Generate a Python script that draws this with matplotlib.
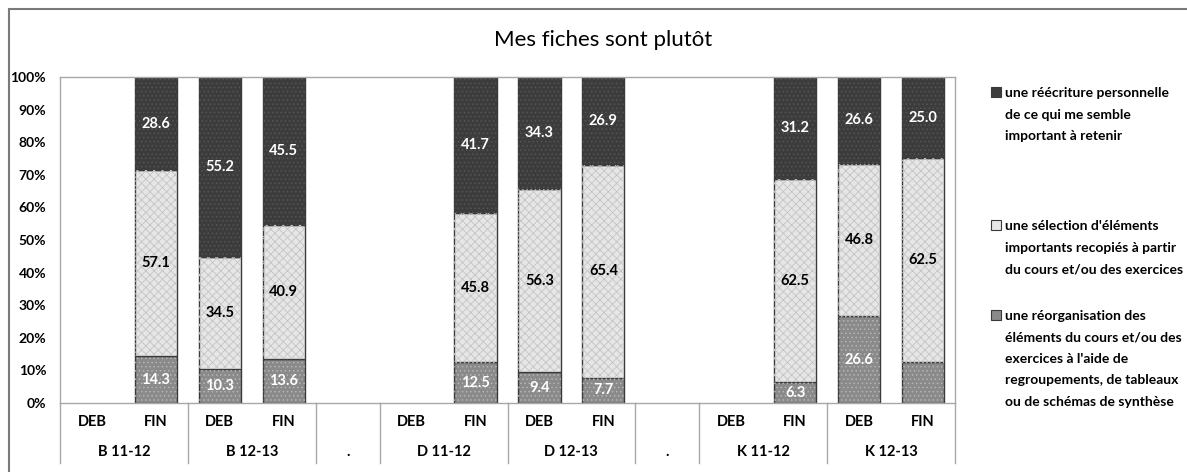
import numpy as np
import matplotlib
matplotlib.use('Agg')
import matplotlib.pyplot as plt
from matplotlib.patches import Rectangle

plt.rcParams['font.family'] = ['Lato', 'DejaVu Sans']
plt.rcParams['hatch.linewidth'] = 0.6

# données (en %)
slots = ['DEB', 'FIN', 'DEB', 'FIN', '', 'DEB', 'FIN', 'DEB', 'FIN', '', 'DEB', 'FIN', 'DEB', 'FIN']
groups = ['B 11-12', 'B 12-13', '.', 'D 11-12', 'D 12-13', '.', 'K 11-12', 'K 12-13']
group_sizes = [2, 2, 1, 2, 2, 1, 2, 2]

nan = np.nan
reorganisation = [nan, 14.3, 10.3, 13.6, nan, nan, 12.5, 9.4, 7.7, nan, nan, 6.3, 26.6, 12.5]
selection = [nan, 57.1, 34.5, 40.9, nan, nan, 45.8, 56.3, 65.4, nan, nan, 62.5, 46.8, 62.5]
reecriture = [nan, 28.6, 55.2, 45.5, nan, nan, 41.7, 34.3, 26.9, nan, nan, 31.2, 26.6, 25.0]
hidden_reorg_labels = [13]  # pas d'étiquette sur K 12-13 FIN

legend_labels = [
    "une réécriture personnelle\nde ce qui me semble\nimportant à retenir",
    "une sélection d'éléments\nimportants recopiés à partir\ndu cours et/ou des exercices",
    "une réorganisation des\néléments du cours et/ou des\nexercices à l'aide de\nregroupements, de tableaux\nou de schémas de synthèse",
]

fig = plt.figure(figsize=(11.87, 4.72), dpi=100)
ax = fig.add_axes([60/1187, 69/472, 895/1187, 326/472])

x = np.arange(len(slots))
w = 0.66

series = [
    (reorganisation, '#8a8a8a', '....', '#b4b4b4', 'white'),
    (selection, '#e6e6e6', 'xxxx', '#c4c4c4', 'black'),
    (reecriture, '#3c3c3c', '....', '#555555', 'white'),
]

bottom = np.zeros(len(slots))
for k, (vals, fc, hatch, hc, tc) in enumerate(series):
    vals = np.array(vals, dtype=float)
    ok = ~np.isnan(vals)
    ax.bar(x[ok], vals[ok], w, bottom=bottom[ok], color=fc, edgecolor='#3a3a3a', linewidth=1, zorder=2)
    ax.bar(x[ok], vals[ok], w, bottom=bottom[ok], color='none', edgecolor=hc, hatch=hatch, linewidth=0, zorder=3)
    for i in x[ok]:
        if k == 0 and i in hidden_reorg_labels:
            continue
        ax.text(i, bottom[i] + vals[i] / 2, f'{vals[i]:.1f}', ha='center', va='center',
                color=tc, fontsize=10.5, fontweight='bold', zorder=4)
    bottom[ok] += vals[ok]

ax.set_xlim(-0.5, len(slots) - 0.5)
ax.set_ylim(0, 100)
ax.set_yticks(np.arange(0, 101, 10))
ax.set_yticklabels([f'{v}%' for v in range(0, 101, 10)], fontsize=10, fontweight='bold')
ax.tick_params(axis='y', length=0, pad=10)
ax.set_xticks([])
for s in ax.spines.values():
    s.set_color('#a8a8a8')
    s.set_linewidth(1)

# axe des catégories à deux niveaux
trans = ax.get_xaxis_transform()
for i, s in enumerate(slots):
    ax.text(i, -0.058, s, transform=trans, ha='center', va='center', fontsize=10.5, fontweight='bold')
edges = np.concatenate([[0], np.cumsum(group_sizes)]) - 0.5
for g, a, b in zip(groups, edges[:-1], edges[1:]):
    ax.text((a + b) / 2, -0.15, g, transform=trans, ha='center', va='center', fontsize=10.5, fontweight='bold')
for e in edges:
    ax.plot([e, e], [0, -0.184], transform=trans, color='#a8a8a8', lw=1, clip_on=False)

fig.text(0.508, 1 - 40/472, 'Mes fiches sont plutôt', ha='center', va='center', fontsize=16)

# légende
leg_tops = [92, 225, 315]
for (vals, fc, hatch, hc, tc), lab, top in zip(series[::-1], legend_labels, leg_tops):
    fig.patches.append(Rectangle((991/1187, 1 - (top + 5)/472), 10/1187, 10/472, transform=fig.transFigure,
                                 facecolor=fc, edgecolor='#3a3a3a', lw=0.8))
    fig.text(1005/1187, 1 - (top - 5)/472, lab, ha='left', va='top', fontsize=10,
             fontweight='bold', linespacing=1.95)

# cadre extérieur
fig.patches.append(Rectangle((9/1187, -0.1), 1.2, 1 - 9/472 + 0.1, transform=fig.transFigure,
                             facecolor='none', edgecolor='#7a7a7a', lw=1.5))

fig.savefig('out.png', dpi=100)
